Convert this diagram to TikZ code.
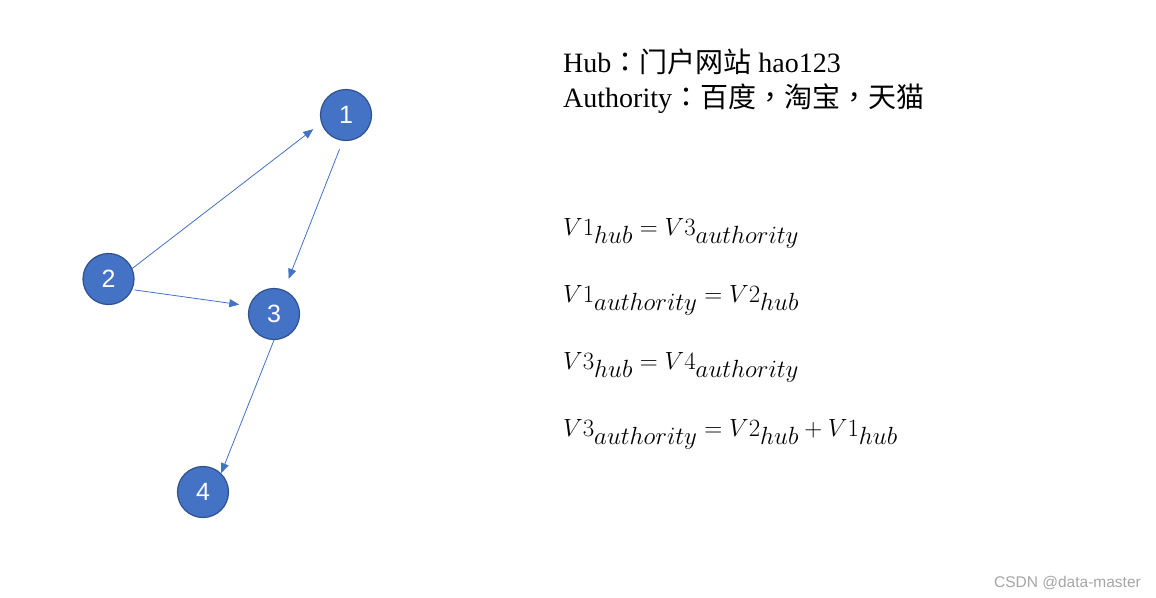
\documentclass[tikz,border=0pt]{standalone}
\usepackage{fontspec}
\setmainfont{Liberation Serif}
\newfontfamily\cjk{Noto Sans CJK SC}
\newfontfamily\cjkp{Noto Sans CJK TC}
\newfontfamily\nodefont{Liberation Sans}
\usetikzlibrary{arrows.meta}
\DeclareMathSizes{31}{31}{23}{17}
\definecolor{nodefill}{HTML}{4472C4}
\definecolor{nodeline}{HTML}{2F528F}
\definecolor{wmgray}{HTML}{A6A6A6}
\tikzset{
  vertex/.style={circle, fill=nodefill, draw=nodeline, line width=1.2pt, minimum size=51pt, inner sep=0pt, text=white, font=\nodefont\fontsize{25}{28}\selectfont},
  link/.style={draw=nodefill, line width=0.8pt, -{Triangle[length=10pt,width=8pt]}},
  txt/.style={anchor=base west, inner sep=0pt, font=\fontsize{28}{32}\selectfont},
  eq/.style={anchor=base west, inner sep=0pt, font=\fontsize{31}{35}\selectfont},
}
\begin{document}
\begin{tikzpicture}[x=1pt,y=-1pt]
\useasboundingbox (0,0) rectangle (1156,597);
\fill[white] (0,0) rectangle (1156,597);
\node[vertex] (n1) at (346,115) {1};
\node[vertex] (n2) at (108.5,279) {2};
\node[vertex] (n3) at (274,314) {3};
\node[vertex] (n4) at (203,492) {4};
\draw[link, shorten >=10pt] (n2.24) -- (n1.198);
\draw[link, shorten <=9pt, shorten >=12pt] (n1.263) -- (n3.67);
\draw[link, shorten <=2pt, shorten >=10pt] (n2.336) -- (n3.162);
\draw[link] (n3.270) -- (n4.46);
\node[txt] (t1) at (563,72) {Hub{\cjkp ：}{\cjk 门户网站} hao123};
\node[txt] (t2) at (563,107) {Authority{\cjkp ：}{\cjk 百度}{\cjkp ，}{\cjk 淘宝}{\cjkp ，}{\cjk 天猫}};
\node[eq] (e1) at (563,235) {$V1_{hub}=V3_{authority}$};
\node[eq] (e2) at (563,302) {$V1_{authority}=V2_{hub}$};
\node[eq] (e3) at (563,369) {$V3_{hub}=V4_{authority}$};
\node[eq] (e4) at (563,436) {$V3_{authority}=V2_{hub}+V1_{hub}$};
\node[anchor=base east, inner sep=0pt, text=wmgray, font=\nodefont\fontsize{15.5}{18}\selectfont] (wm) at (1141,587) {CSDN @data-master};
\end{tikzpicture}
\end{document}
